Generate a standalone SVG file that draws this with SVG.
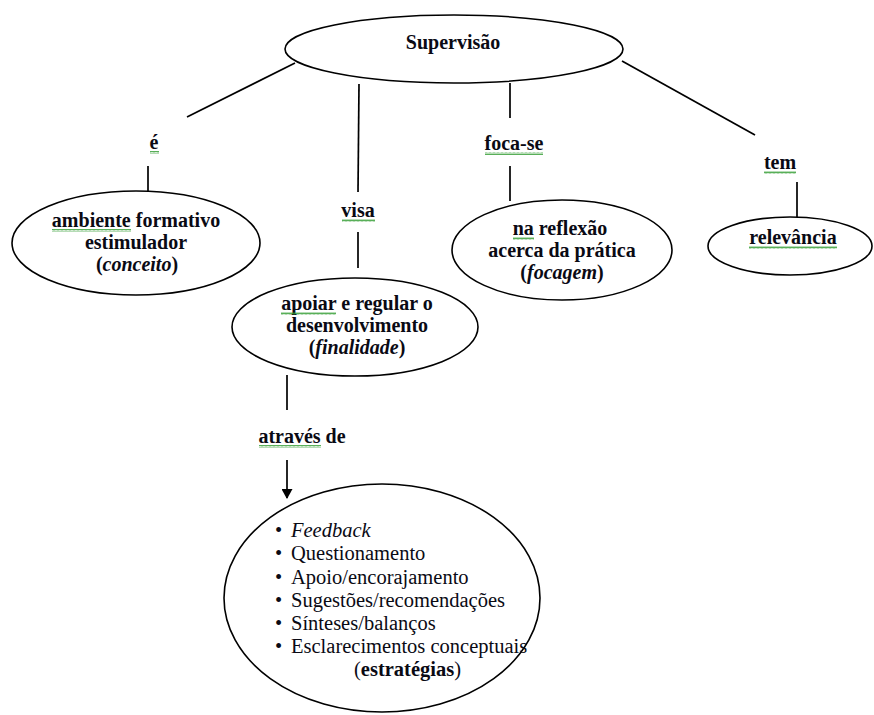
<svg xmlns="http://www.w3.org/2000/svg" width="874" height="715" viewBox="0 0 874 715" font-family="Liberation Serif">
<style>
.node ellipse{fill:#fff;stroke:#000;stroke-width:1.6}
.conn line{stroke:#000;stroke-width:1.7}
.b{font-weight:bold;font-size:20px;fill:#0a0a14;text-anchor:middle}
.r{font-size:20.5px;fill:#0a0a14}
.sq{fill:url(#wave)}
</style>
<defs>
<pattern id="wave" width="4" height="3" patternUnits="userSpaceOnUse">
<path d="M0,2.5 L1,0.5 L2,2.5 L3,0.5 L4,2.5" fill="none" stroke="#2e9a2e" stroke-width="0.8"/>
</pattern>
<marker id="arr" markerWidth="10" markerHeight="11" refX="9" refY="5.5" orient="auto" markerUnits="userSpaceOnUse">
<path d="M0,0 L10,5.5 L0,11 z" fill="#000"/>
</marker>
</defs>
<rect width="874" height="715" fill="#fff"/>
<g id="connectors" class="conn">
<line x1="295" y1="63" x2="187" y2="117"/>
<line x1="148" y1="166" x2="148" y2="191"/>
<line x1="359" y1="84" x2="358" y2="192"/>
<line x1="358" y1="232" x2="358" y2="268"/>
<line x1="510" y1="83" x2="510" y2="118"/>
<line x1="510" y1="166" x2="510" y2="201"/>
<line x1="622" y1="61" x2="755" y2="135"/>
<line x1="797" y1="182" x2="797" y2="217"/>
<line x1="287" y1="375" x2="287" y2="410"/>
<line x1="287" y1="460" x2="287" y2="498" marker-end="url(#arr)"/>
<text class="b" x="154" y="149" font-family="Liberation Serif">é</text>
<rect class="sq" x="150" y="151" width="9" height="3"/>
<text class="b" x="358" y="217" font-family="Liberation Serif">visa</text>
<rect class="sq" x="342" y="219" width="33" height="3"/>
<text class="b" x="514" y="150" font-family="Liberation Serif">foca-se</text>
<rect class="sq" x="485" y="152" width="58" height="3"/>
<text class="b" x="780" y="169" font-family="Liberation Serif">tem</text>
<rect class="sq" x="764" y="171" width="32" height="3"/>
<text class="b" x="302" y="443" font-family="Liberation Serif">através de</text>
<rect class="sq" x="259" y="445" width="62" height="3"/>
</g>
<g id="n-supervisao" class="node">
<ellipse cx="454" cy="49" rx="169" ry="34"/>
<text class="b" x="453" y="49" font-size="19.5" font-family="Liberation Serif">Supervisão</text>
</g>
<g id="n-ambiente" class="node">
<ellipse cx="136" cy="243" rx="124" ry="52"/>
<text class="b" x="136" y="227" font-family="Liberation Serif">ambiente formativo</text>
<text class="b" x="136" y="249" font-family="Liberation Serif">estimulador</text>
<text class="b" x="137" y="271" font-family="Liberation Serif">(<tspan font-style="italic">conceito</tspan>)</text>
<rect class="sq" x="52" y="229" width="79" height="3"/>
</g>
<g id="n-apoiar" class="node">
<ellipse cx="355" cy="327" rx="123" ry="49"/>
<text class="b" x="357" y="310" font-family="Liberation Serif">apoiar e regular o</text>
<text class="b" x="357" y="332" font-family="Liberation Serif">desenvolvimento</text>
<text class="b" x="357" y="354" font-family="Liberation Serif">(<tspan font-style="italic">finalidade</tspan>)</text>
<rect class="sq" x="281" y="312" width="55" height="3"/>
</g>
<g id="n-reflexao" class="node">
<ellipse cx="562" cy="250" rx="110" ry="50"/>
<text class="b" x="560" y="235" font-family="Liberation Serif">na reflexão</text>
<text class="b" x="562" y="257" font-family="Liberation Serif">acerca da prática</text>
<text class="b" x="562" y="279" font-family="Liberation Serif">(<tspan font-style="italic">focagem</tspan>)</text>
<rect class="sq" x="513" y="237" width="21" height="3"/>
</g>
<g id="n-relevancia" class="node">
<ellipse cx="790" cy="246" rx="82" ry="29"/>
<text class="b" x="793" y="244" font-family="Liberation Serif">relevância</text>
<rect class="sq" x="749" y="246" width="88" height="3"/>
</g>
<g id="n-estrategias" class="node">
<ellipse cx="382" cy="598" rx="158" ry="114"/>
<text class="r" x="275" y="537" font-family="Liberation Serif">•<tspan x="291" font-style="italic">Feedback</tspan></text>
<text class="r" x="275" y="560" font-family="Liberation Serif">•<tspan x="291">Questionamento</tspan></text>
<text class="r" x="275" y="584" font-family="Liberation Serif">•<tspan x="291">Apoio/encorajamento</tspan></text>
<text class="r" x="275" y="607" font-family="Liberation Serif">•<tspan x="291">Sugestões/recomendações</tspan></text>
<text class="r" x="275" y="630" font-family="Liberation Serif">•<tspan x="291">Sínteses/balanços</tspan></text>
<text class="r" x="275" y="653" font-family="Liberation Serif">•<tspan x="291">Esclarecimentos conceptuais</tspan></text>
<text class="r" x="354" y="676" font-family="Liberation Serif">(<tspan font-weight="bold">estratégias</tspan>)</text>
</g>
</svg>
